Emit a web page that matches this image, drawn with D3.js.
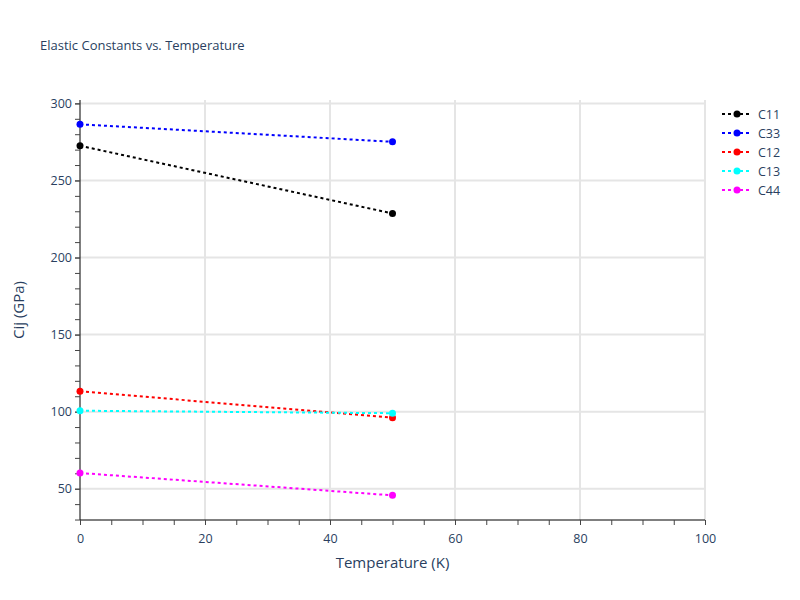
<!DOCTYPE html>
<html><head><meta charset="utf-8">
<script src="https://cdn.jsdelivr.net/npm/d3@7"></script>
<style>body{margin:0;background:#fff}text{font-family:"Open Sans",verdana,arial,sans-serif}</style>
</head><body><svg id="c" width="800" height="600"></svg>
<script>
const temperatures = [0, 50];
const seriesNames = ["C11", "C33", "C12", "C13", "C44"];
const seriesColors = ["#000000", "#0000ff", "#ff0000", "#00ffff", "#ff00ff"];
const C11 = [272.5, 228.6];
const C33 = [286.4, 275.1];
const C12 = [113.2, 96.1];
const C13 = [100.6, 99.0];
const C44 = [60.2, 45.7];
const seriesValues = [C11, C33, C12, C13, C44];
const xTicks = [0, 20, 40, 60, 80, 100];
const yTicks = [50, 100, 150, 200, 250, 300];

const svg = d3.select("#c");
const L = 80, R = 705, T = 100, B = 520;
const x = d3.scaleLinear().domain([0, 100]).range([L, R]);
const y = d3.scaleLinear().domain([29.7, 302.2]).range([B, T]);
const txt = "#2a3f5f";

// grid
svg.append("g").selectAll("line").data(xTicks.slice(1)).join("line")
  .attr("x1", d => x(d)).attr("x2", d => x(d)).attr("y1", T).attr("y2", B)
  .attr("stroke", "#e5e5e5").attr("stroke-width", 2);
svg.append("g").selectAll("line").data(yTicks).join("line")
  .attr("x1", L).attr("x2", R).attr("y1", d => y(d)).attr("y2", d => y(d))
  .attr("stroke", "#e5e5e5").attr("stroke-width", 2);

// axes
const xMinor = d3.range(0, 101, 5);
const yMinor = d3.range(30, 301, 10);
const xa = svg.append("g").attr("transform", `translate(0,${B})`)
  .call(d3.axisBottom(x).tickValues(xMinor).tickSize(5).tickFormat(""));
xa.select(".domain").attr("stroke", "#000").attr("d", `M${L},0H${R}`);
xa.selectAll(".tick line").attr("stroke", "#444");
const xl = svg.append("g").attr("transform", `translate(0,${B})`)
  .call(d3.axisBottom(x).tickValues(xTicks).tickSize(5));
xl.select(".domain").remove();
xl.selectAll(".tick line").attr("stroke", "#444");
xl.selectAll("text").attr("fill", txt).attr("font-size", 12.5).attr("dy", "1.2em");

const ya = svg.append("g").attr("transform", `translate(${L},0)`)
  .call(d3.axisLeft(y).tickValues(yMinor).tickSize(5).tickFormat(""));
ya.select(".domain").attr("stroke", "#000").attr("d", `M0,${T}V${B}`);
ya.selectAll(".tick line").attr("stroke", "#444");
const yl = svg.append("g").attr("transform", `translate(${L},0)`)
  .call(d3.axisLeft(y).tickValues(yTicks).tickSize(5));
yl.select(".domain").remove();
yl.selectAll(".tick line").attr("stroke", "#444");
yl.selectAll("text").attr("fill", txt).attr("font-size", 12.5).attr("x", -8);

// series
const line = d3.line().x((d, i) => x(temperatures[i])).y(d => y(d));
seriesValues.forEach((vals, k) => {
  svg.append("path").datum(vals).attr("d", line).attr("fill", "none")
    .attr("stroke", seriesColors[k]).attr("stroke-width", 2).attr("stroke-dasharray", "3,3");
  svg.append("g").selectAll("circle").data(vals).join("circle")
    .attr("cx", (d, i) => x(temperatures[i])).attr("cy", d => y(d)).attr("r", 3.5)
    .attr("fill", seriesColors[k]);
});

// titles
svg.append("text").attr("x", 40).attr("y", 50).attr("fill", txt).attr("font-size", 13)
  .text("Elastic Constants vs. Temperature");
svg.append("text").attr("x", (L + R) / 2).attr("y", 568).attr("text-anchor", "middle")
  .attr("fill", txt).attr("font-size", 15).text("Temperature (K)");
svg.append("text").attr("transform", `translate(24,${(T + B) / 2}) rotate(-90)`)
  .attr("text-anchor", "middle").attr("fill", txt).attr("font-size", 15).text("Cij (GPa)");

// legend
const lg = svg.append("g").selectAll("g").data(seriesNames).join("g")
  .attr("transform", (d, i) => `translate(722,${114 + i * 19})`);
lg.append("line").attr("x1", 0).attr("x2", 30).attr("y1", 0).attr("y2", 0)
  .attr("stroke", (d, i) => seriesColors[i]).attr("stroke-width", 2).attr("stroke-dasharray", "3,3");
lg.append("circle").attr("cx", 15).attr("cy", 0).attr("r", 3.5).attr("fill", (d, i) => seriesColors[i]);
lg.append("text").attr("x", 36).attr("y", 4.5).attr("fill", txt).attr("font-size", 12.5).text(d => d);
</script></body></html>
